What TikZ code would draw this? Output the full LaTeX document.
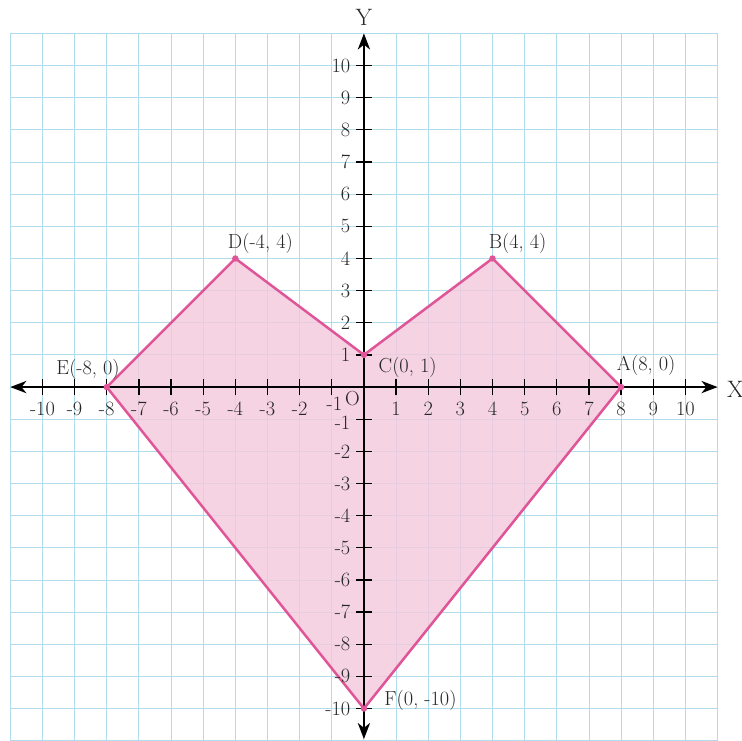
\documentclass[tikz,border=0pt]{standalone}
\usepackage{fontspec}
\usepackage{tikz}
\usetikzlibrary{arrows.meta}
\definecolor{gridblue}{RGB}{176,220,236}
\definecolor{heartpink}{RGB}{224,84,152}
\definecolor{heartfill}{RGB}{243,200,219}

\tikzset{
	gridline/.style={draw=gridblue, line width=0.8pt},
	axisline/.style={line width=1.7pt, {Stealth[length=5mm,width=3.8mm,inset=1.5mm]}-{Stealth[length=5mm,width=3.8mm,inset=1.5mm]}},
	tickmark/.style={line width=1.1pt},
	numlabel/.style={font=\fontsize{18}{21}\selectfont, inner sep=0.5pt, text=black!85},
	ptlabel/.style={font=\fontsize{18}{21}\selectfont, inner sep=0.5pt, text=black!85},
	vertexdot/.style={circle, fill=heartpink, inner sep=0pt, minimum size=2mm},
	heartedge/.style={draw=heartpink, line width=2.2pt, line join=round, fill=heartfill, fill opacity=0.8},
}

\begin{document}
\begin{tikzpicture}
	\useasboundingbox (-11.32,-10.98) rectangle (11.76,12.04);
	\draw[gridline] (-11,-11) grid (11,11);

	% vertices of the figure
	\coordinate (A) at (8,0);
	\coordinate (B) at (4,4);
	\coordinate (C) at (0,1);
	\coordinate (D) at (-4,4);
	\coordinate (E) at (-8,0);
	\coordinate (F) at (0,-10);

	\path[heartedge] (A) -- (B) -- (C) -- (D) -- (E) -- (F) -- cycle;

	% axes
	\coordinate (xleft) at (-11,0);
	\coordinate (xright) at (11,0);
	\coordinate (ydown) at (0,-10.95);
	\coordinate (yup) at (0,11);
	\draw[axisline] (xleft) -- (xright);
	\draw[axisline] (ydown) -- (yup);
	\node[numlabel, font=\fontsize{21}{24}\selectfont] (xname) at (11.55,-0.08) {X};
	\node[numlabel, font=\fontsize{21}{24}\selectfont] (yname) at (0,11.5) {Y};
	\node[numlabel] (origin) at (-0.36,-0.36) {O};

	\foreach \k in {-10,...,-2,1,2,...,10} {
		\draw[tickmark] (\k,-0.25) -- (\k,0.25);
		\node[numlabel] (xn\k) at (\k,-0.68) {\k};
	}
	\draw[tickmark] (-1,-0.25) -- (-1,0.25);
	\node[numlabel] (xnm1) at (-0.92,-0.52) {-1};
	\foreach \k in {-10,...,-2,1,2,...,10} {
		\draw[tickmark] (-0.25,\k) -- (0.25,\k);
		\node[numlabel, anchor=east] (yn\k) at (-0.4,\k) {\k};
	}
	\draw[tickmark] (-0.25,-1) -- (0.25,-1);
	\node[numlabel, anchor=east] (ynm1) at (-0.4,-1.12) {-1};

	% points and their labels
	\foreach \p in {A,B,C,D,E,F}
		\node[vertexdot] (dot\p) at (\p) {};
	\node[ptlabel] (labA) at (8.78,0.66) {A(8, 0)};
	\node[ptlabel] (labB) at (4.78,4.48) {B(4, 4)};
	\node[ptlabel] (labC) at (1.36,0.6) {C(0, 1)};
	\node[ptlabel] (labD) at (-3.22,4.48) {D(-4, 4)};
	\node[ptlabel] (labE) at (-8.58,0.55) {E(-8, 0)};
	\node[ptlabel] (labF) at (1.76,-9.74) {F(0, -10)};
\end{tikzpicture}
\end{document}
